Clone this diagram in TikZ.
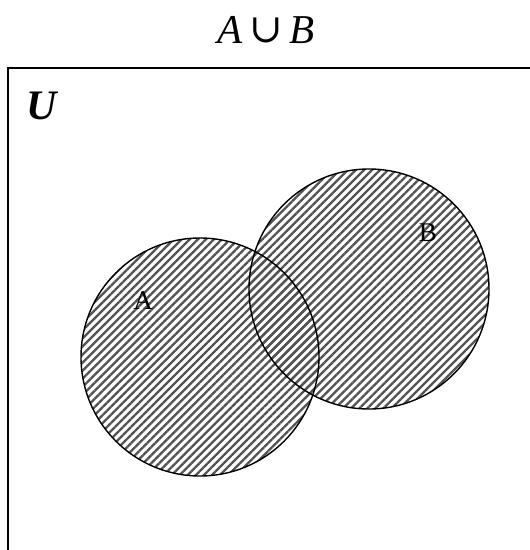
\documentclass[tikz,border=0pt]{standalone}
\usepackage{fontspec}
\setmainfont{Liberation Serif}[ItalicFont={Liberation Serif Italic},BoldFont={Liberation Serif Bold},BoldItalicFont={Liberation Serif Bold Italic}]
\newfontfamily\symfont{DejaVu Serif}
\usetikzlibrary{patterns.meta}
\tikzset{
  hatch/.style={pattern={Lines[angle=45,distance=5.7pt,line width=2.3pt]},pattern color=black!68},
  setline/.style={draw=black,line width=1.4pt},
  frame/.style={draw=black,line width=2pt},
  lbl/.style={inner sep=0pt,font=\fontsize{27}{30}\selectfont}
}
\begin{document}
\begin{tikzpicture}[x=1pt,y=1pt]
\useasboundingbox (0,0) rectangle (530,-550);
% universe frame (cropped)
\draw[frame] (531,-68) -- (8,-68) -- (8,-551);
% hatch the union
\path[hatch] (200,-357) circle (119);
\path[hatch] (369,-289) circle (120);
% outlines
\draw[setline] (200,-357) circle (119);
\draw[setline] (369,-289) circle (120);
% texts
\node[inner sep=0pt,font=\fontsize{41}{43}\selectfont] (title) at (266,-30)
  {\textit{A}\hspace{7pt}{\symfont\fontsize{40}{42}\selectfont\raisebox{1pt}{∪}}\hspace{7pt}\textit{B}};
\node[inner sep=0pt,font=\fontsize{42}{44}\selectfont\bfseries\itshape] (u) at (42,-106) {U};
\node[lbl] (la) at (143,-301) {A};
\node[lbl] (lb) at (428,-233) {B};
\end{tikzpicture}
\end{document}
